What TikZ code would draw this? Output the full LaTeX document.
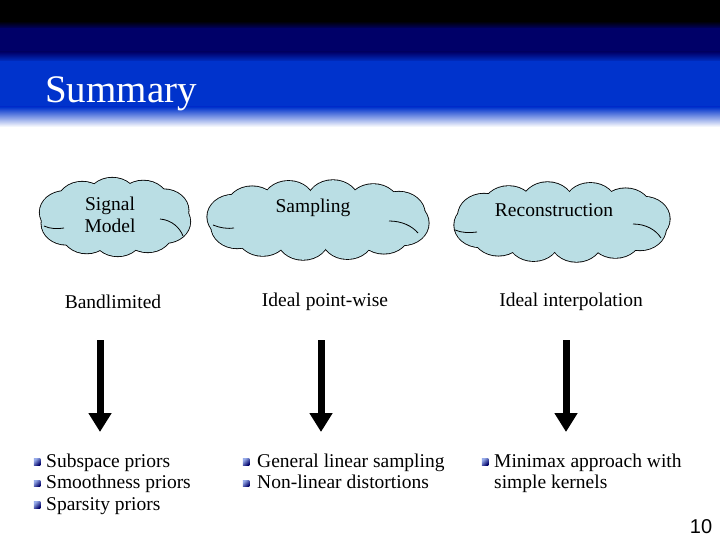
\documentclass[tikz,border=0pt]{standalone}
\usepackage{fontspec}
\setmainfont{Liberation Serif}
\newfontfamily\numfont{Liberation Sans}
\usetikzlibrary{arrows.meta}
\definecolor{navyc}{RGB}{0,0,104}
\definecolor{bluec}{RGB}{0,51,204}
\definecolor{lavc}{RGB}{150,150,232}
\definecolor{cloudc}{RGB}{186,222,228}
\tikzset{
  txt/.style={font=\fontsize{19.5}{21.5}\selectfont, inner sep=0pt, align=center},
  bigarrow/.style={line width=7pt, -{Triangle[width=22pt,length=19pt]}},
  bul/.style={minimum size=6.5pt, inner sep=0pt, shading=axis, left color=bluec!40!white, right color=navyc, shading angle=45},
  puffline/.style={draw=black, line width=1.7pt},
  pufffill/.style={fill=cloudc},
  innerarc/.style={draw=black, line width=0.8pt},
}
% #1 cx, #2 cy, #3 a, #4 b, #5 r, #6 count, #7 phase
\newcommand\mycloud[7]{%
  \foreach \k in {1,...,#6}{\path[puffline] ({#1+#3*cos(\k*360/#6+#7)},{#2+#4*sin(\k*360/#6+#7)}) ellipse[x radius=#5, y radius=#5*0.85];}
  \path[puffline] (#1,#2) ellipse[x radius=#3,y radius=#4];
  \foreach \k in {1,...,#6}{\path[pufffill] ({#1+#3*cos(\k*360/#6+#7)},{#2+#4*sin(\k*360/#6+#7)}) ellipse[x radius=#5, y radius=#5*0.85];}
  \path[pufffill] (#1,#2) ellipse[x radius=#3,y radius=#4];
}
\begin{document}
\begin{tikzpicture}[x=1pt,y=-1pt]
\useasboundingbox (0,0) rectangle (720,540);
\fill[white] (0,0) rectangle (720,540);
% header
\fill[black] (0,0) rectangle (720,21);
\shade[top color=black,bottom color=navyc] (0,21) rectangle (720,29);
\fill[navyc] (0,28.5) rectangle (720,52);
\shade[top color=navyc,bottom color=bluec] (0,52) rectangle (720,62);
\fill[bluec] (0,61.5) rectangle (720,107);
\shade[top color=bluec,middle color=lavc,bottom color=white] (0,107) rectangle (720,127);
\node[anchor=base west, inner sep=0pt, text=white, font=\fontsize{39}{40}\selectfont] (title) at (45,103) {Summary};
% clouds
\mycloud{115}{217}{52}{18}{25}{10}{15}
\mycloud{318}{220}{86}{18}{26}{12}{10}
\mycloud{562}{222}{83}{18}{26}{12}{20}
\coordinate (c1) at (115,217);
\coordinate (c2) at (318,220);
\coordinate (c3) at (562,222);
% inner creases
\draw[innerarc] (160,219) .. controls (172,220) and (180,228) .. (183,236);
\draw[innerarc] (44,226) .. controls (50,229) and (58,229) .. (64,228);
\draw[innerarc] (389,221) .. controls (402,221) and (412,226) .. (418,233);
\draw[innerarc] (213,225) .. controls (220,228) and (228,229) .. (234,228);
\draw[innerarc] (633,224) .. controls (646,224) and (656,230) .. (661,238);
\draw[innerarc] (455,230) .. controls (462,233) and (470,233) .. (477,232);
\node[txt] (t1) at (110,215) {Signal\\Model};
\node[txt] (t2) at (313,208) {Sampling};
\node[txt] (t3) at (554,210) {Reconstruction};
% labels
\node[txt] (l1) at (113,302) {Bandlimited};
\node[txt] (l2) at (325,302) {Ideal point-wise};
\node[txt] (l3) at (571,302) {Ideal interpolation};
% arrows
\coordinate (a1s) at (100,340); \coordinate (a1e) at (100,432);
\coordinate (a2s) at (321,340); \coordinate (a2e) at (321,432);
\coordinate (a3s) at (566,340); \coordinate (a3e) at (566,432);
\draw[bigarrow] (a1s) -- (a1e);
\draw[bigarrow] (a2s) -- (a2e);
\draw[bigarrow] (a3s) -- (a3e);
% bullets column 1
\node[bul] (b11) at (37,462) {};
\node[bul] (b12) at (37,483.5) {};
\node[bul] (b13) at (37,505) {};
\node[txt, anchor=base west] (s11) at (46,467) {Subspace priors};
\node[txt, anchor=base west] (s12) at (46,488.5) {Smoothness priors};
\node[txt, anchor=base west] (s13) at (46,510) {Sparsity priors};
% column 2
\node[bul] (b21) at (246,462) {};
\node[bul] (b22) at (246,483.5) {};
\node[txt, anchor=base west] (s21) at (257,467) {General linear sampling};
\node[txt, anchor=base west] (s22) at (257,488.5) {Non-linear distortions};
% column 3
\node[bul] (b31) at (485,462) {};
\node[txt, anchor=base west] (s31) at (494,467) {Minimax approach with};
\node[txt, anchor=base west] (s32) at (494,488.5) {simple kernels};
% page number
\node[inner sep=0pt, font=\numfont\fontsize{20}{20}\selectfont] (pn) at (701,527) {10};
\end{tikzpicture}
\end{document}
